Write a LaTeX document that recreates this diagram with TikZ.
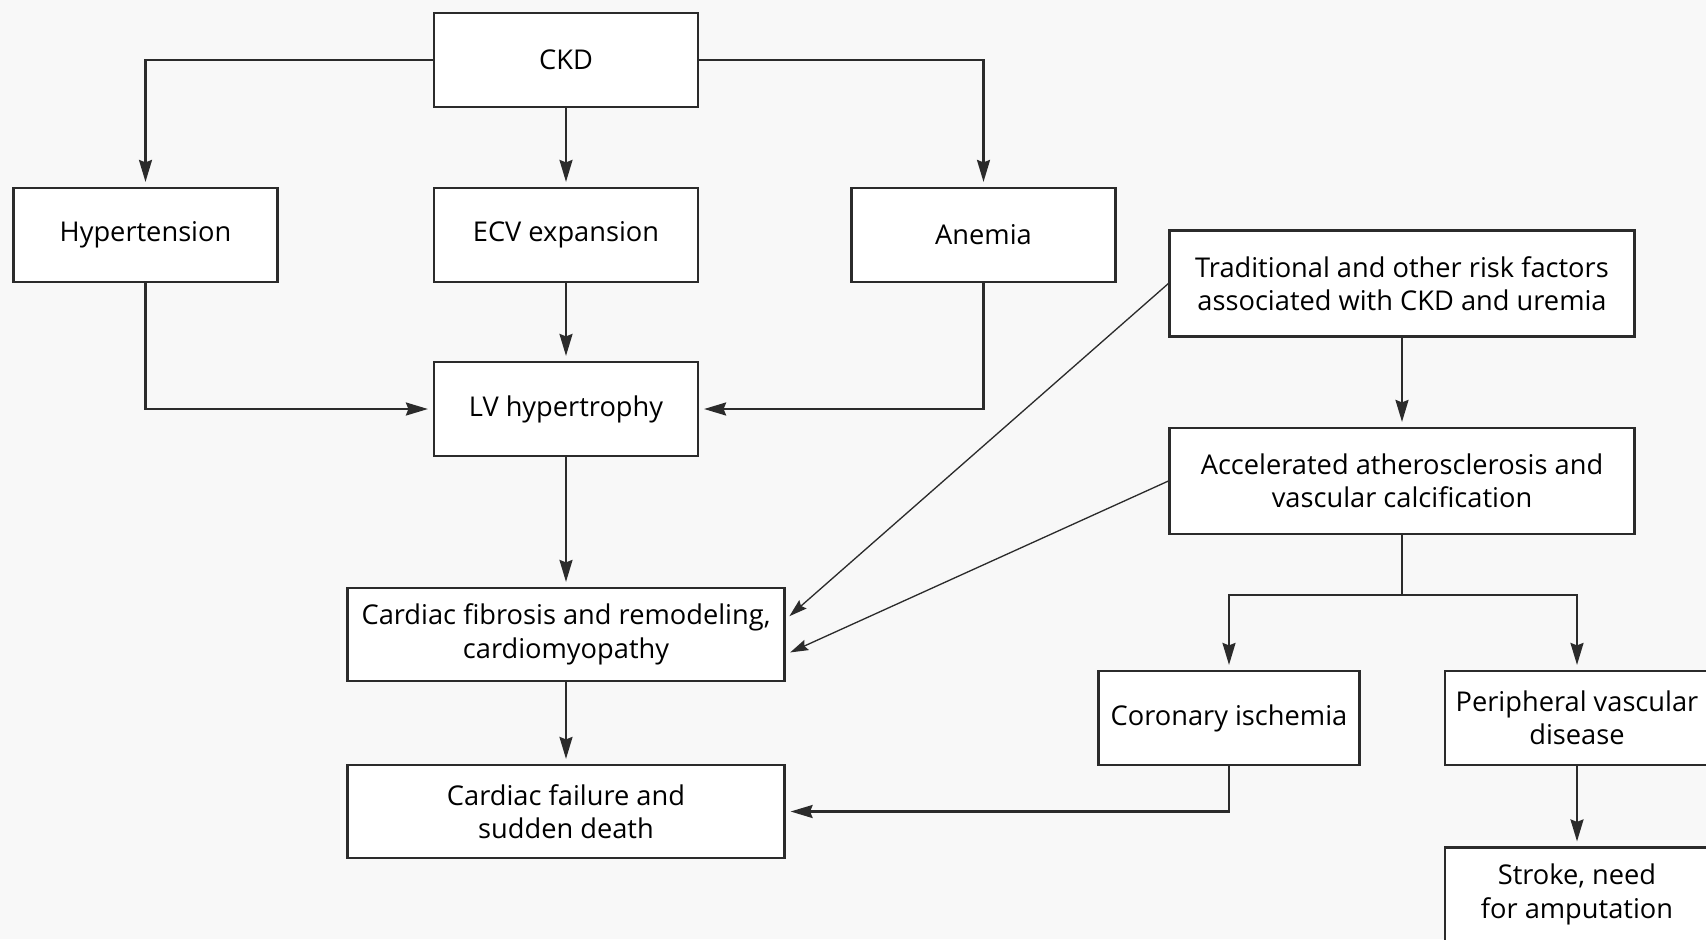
\documentclass[tikz,border=0pt]{standalone}
\usepackage{fontspec}
\setmainfont{Open Sans}
\usetikzlibrary{arrows.meta}
\definecolor{bgcol}{HTML}{F8F8F8}
\definecolor{linecol}{HTML}{2B2B2B}
\begin{document}
\begin{tikzpicture}[
  font=\fontsize{15.5}{19}\selectfont,
  box/.style={draw=linecol, fill=white, line width=1.25pt, align=center, minimum width=5.28cm, minimum height=1.88cm, inner sep=2pt},
  widebox/.style={box, minimum width=8.74cm, minimum height=1.86cm},
  riskbox/.style={box, minimum width=9.3cm, minimum height=2.12cm},
  arrow/.style={-{Stealth[length=4.4mm,width=2.6mm,inset=0.5mm]}, line width=1.25pt, draw=linecol, shorten >=1mm},
  thinarrow/.style={arrow, line width=0.75pt, -{Stealth[length=3.6mm,width=2.2mm,inset=0.5mm]}}
]
\fill[bgcol] (0,0) rectangle (34.12,-18.78);
\useasboundingbox (0,0) rectangle (34.12,-18.78);
\node[box] (ckd) at (11.32,-1.20) {CKD};
\node[box] (hyper) at (2.91,-4.70) {Hypertension};
\node[box] (ecv) at (11.32,-4.70) {ECV expansion};
\node[box] (anemia) at (19.67,-4.70) {Anemia};
\node[box] (lvh) at (11.32,-8.18) {LV hypertrophy};
\node[riskbox] (risk) at (28.04,-5.67) {Traditional and other risk factors\\associated with CKD and uremia};
\node[riskbox] (athero) at (28.04,-9.62) {Accelerated atherosclerosis and\\vascular calcification};
\node[widebox] (fibrosis) at (11.32,-12.69) {Cardiac fibrosis and remodeling,\\cardiomyopathy};
\node[widebox] (failure) at (11.32,-16.23) {Cardiac failure and\\sudden death};
\node[box, minimum width=5.22cm] (coronary) at (24.58,-14.36) {Coronary ischemia};
\node[box] (pvd) at (31.54,-14.36) {Peripheral vascular\\disease};
\node[box] (stroke) at (31.54,-17.89) {Stroke, need\\for amputation};
\draw[arrow] (ckd.west) -| (hyper.north);
\draw[arrow] (ckd) -- (ecv);
\draw[arrow] (ckd.east) -| (anemia.north);
\draw[arrow] (ecv) -- (lvh);
\draw[arrow] (hyper.south) |- (lvh.west);
\draw[arrow] (anemia.south) |- (lvh.east);
\draw[arrow] (lvh) -- (fibrosis);
\draw[arrow] (fibrosis) -- (failure);
\draw[arrow] (risk) -- (athero);
\draw[thinarrow] (risk.west) -- ([yshift=3mm]fibrosis.east);
\draw[thinarrow] (athero.west) -- ([yshift=-4mm]fibrosis.east);
\draw[line width=1.25pt, draw=linecol] (athero.south) -- ++(0,-1.2) coordinate (split);
\draw[arrow] (split) -| (coronary.north);
\draw[arrow] (split) -| (pvd.north);
\draw[arrow] (pvd) -- (stroke);
\draw[arrow] (coronary.south) |- (failure.east);
\end{tikzpicture}
\end{document}
